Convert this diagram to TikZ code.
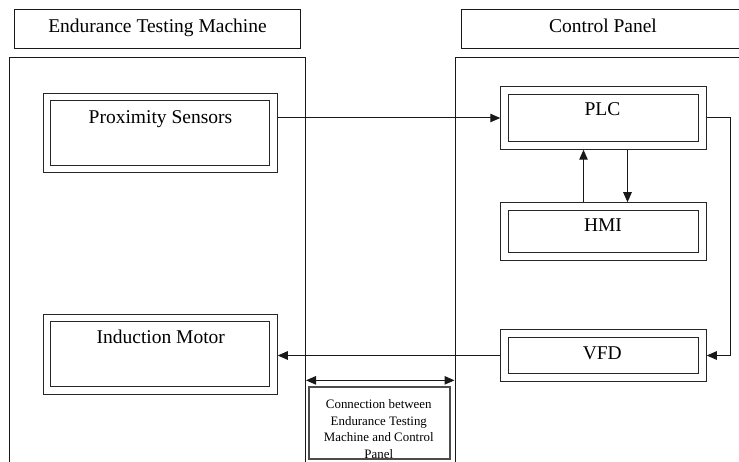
\documentclass[tikz,border=0pt]{standalone}
\usepackage{fontspec}
\setmainfont{Liberation Serif}
\usetikzlibrary{shapes,arrows,positioning,calc,arrows.meta}

\begin{document}
\begin{tikzpicture}[x=1pt, y=-1pt, auto, node distance=2cm,
   panel/.style={draw=black!90, line width=1pt, minimum width=296.5pt, minimum height=422pt, inner sep=0pt},
   titlebox/.style={draw=black!90, line width=1pt, minimum height=39pt, inner sep=0pt},
   block/.style={draw=black!85, line width=1pt, double, double distance=6.5pt, inner sep=0pt, outer sep=4.25pt},
   lbl/.style={font=\fontsize{19.5}{23}\selectfont, inner sep=0pt, anchor=base},
   note/.style={font=\fontsize{12.9}{16.6}\selectfont, inner sep=0pt, align=center, anchor=north},
   sig/.style={-{Triangle[length=10pt,width=8.5pt]}, line width=1pt, black!90},
   twoway/.style={{Triangle[length=10pt,width=8.5pt]}-{Triangle[length=10pt,width=8.5pt]}, line width=1pt, black!90}]

   \path[use as bounding box, clip] (0,0) rectangle (739,462);

   % Endurance Testing Machine side
   \node at (157,29.5) [titlebox, minimum width=286pt] (emtitle) {};
   \node at (157.5,32.5) [lbl] {Endurance Testing Machine};
   \node at (157.25,269) [panel] (empanel) {};

   \node at (160.25,133) [block, minimum width=226.5pt, minimum height=72pt] (prox) {};
   \node at (160.5,124) [lbl] {Proximity Sensors};

   \node at (160.25,354.25) [block, minimum width=226.5pt, minimum height=72.5pt] (motor) {};
   \node at (160.8,344) [lbl] {Induction Motor};

   % Control Panel side
   \node at (603,29.5) [titlebox, minimum width=284pt] (cptitle) {};
   \node at (603,32.5) [lbl] {Control Panel};
   \node at (603.25,269) [panel] (cppanel) {};

   \node at (603.5,118) [block, minimum width=198pt, minimum height=55pt] (plc) {};
   \node at (602.5,115.7) [lbl] {PLC};

   \node at (603.5,231.5) [block, minimum width=198pt, minimum height=50pt] (hmi) {};
   \node at (603,231.7) [lbl] {HMI};

   \node at (603.5,355.5) [block, minimum width=198pt, minimum height=44pt] (vfd) {};
   \node at (602.3,359.3) [lbl] {VFD};

   % Connection between the two sides
   \node at (379.5,423) [draw=black!70, line width=1.3pt, minimum width=141pt, minimum height=72pt] (link) {};
   \node at (378.8,399.6) [note] {Connection between\\Endurance Testing\\Machine and Control\\Panel};

   % Signals
   \draw[sig] (prox.east |- plc.west) -- (plc.west);
   \draw[sig] ($(hmi.north)+(-20,0)$) -- ($(plc.south)+(-20,0)$);
   \draw[sig] ($(plc.south)+(24,0)$) -- ($(hmi.north)+(24,0)$);
   \draw[sig] (plc.east) -- ++(24,0) |- (vfd.east);
   \draw[sig] (vfd.west) -- (motor.east |- vfd.west);
   \draw[twoway] ($(empanel.east |- link.north)+(0,-6)$) -- ($(cppanel.west |- link.north)+(0,-6)$);

\end{tikzpicture}
\end{document}
